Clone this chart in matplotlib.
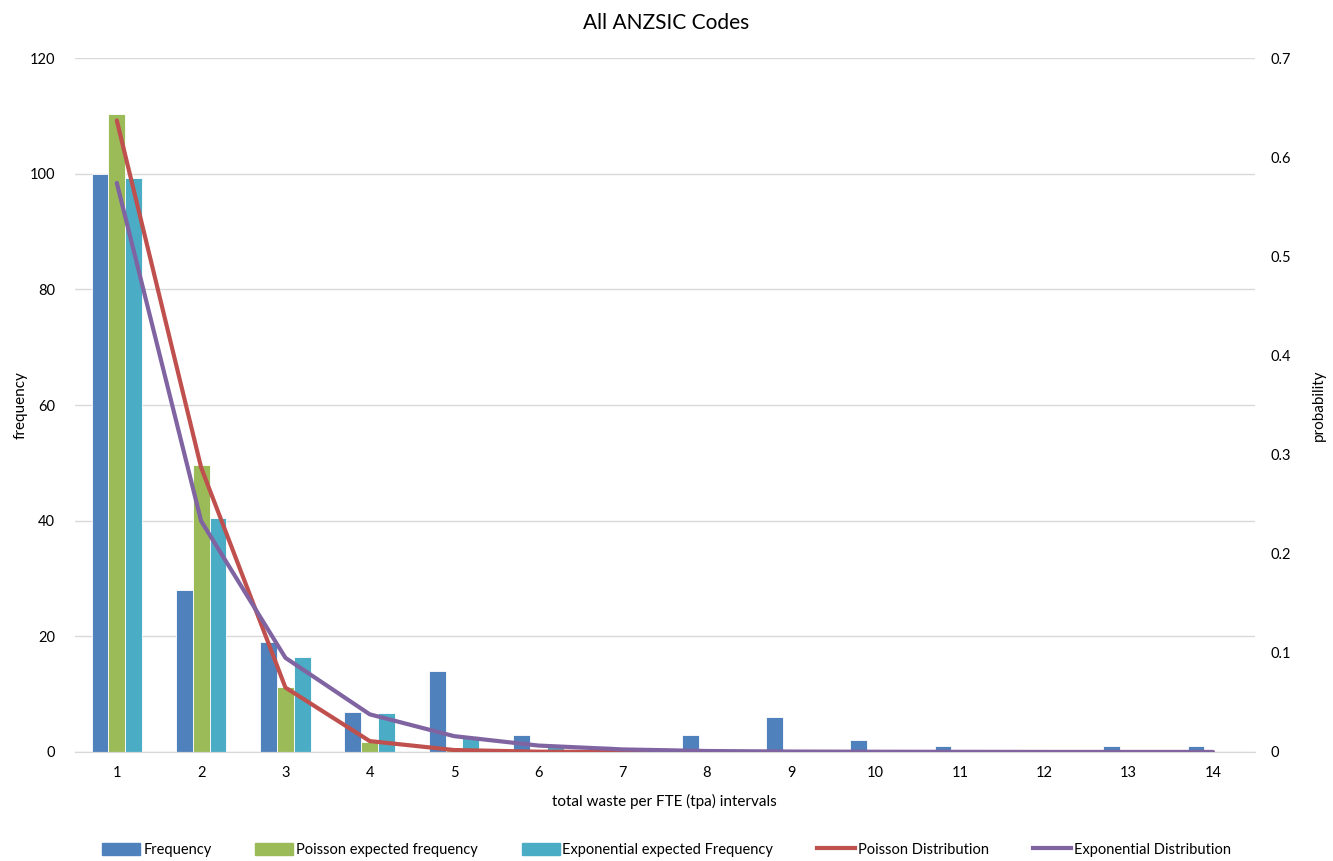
import numpy as np
import matplotlib
matplotlib.use("Agg")
import matplotlib.pyplot as plt
from matplotlib.patches import Patch
from matplotlib.lines import Line2D

plt.rcParams['font.family'] = ['Lato', 'DejaVu Sans']

# data
intervals = [str(i) for i in range(1, 15)]
frequency = [100, 28, 19, 7, 14, 3, 1, 3, 6, 2, 1, 0, 1, 1]
poisson_freq = [110.3, 49.6, 11.2, 1.8, 0.3, 0.05, 0.01, 0, 0, 0, 0, 0, 0, 0]
expon_freq = [99.3, 40.4, 16.4, 6.7, 2.7, 1.1, 0.45, 0.18, 0.07, 0.03, 0.01, 0, 0, 0]
poisson_dist = [0.637, 0.287, 0.065, 0.011, 0.002, 0.0003, 0.0001, 0, 0, 0, 0, 0, 0, 0]
expon_dist = [0.574, 0.233, 0.095, 0.038, 0.016, 0.0065, 0.0026, 0.001, 0.0004, 0.0002, 0.0001, 0, 0, 0]

c_freq = '#4f81bd'
c_pois = '#9bbb59'
c_exp = '#4bacc6'
c_pline = '#c0504d'
c_eline = '#8064a2'

fig = plt.figure(figsize=(13.33, 8.61), dpi=100)
ax = fig.add_axes([0.056, 0.1266, 0.8855, 0.806])
ax2 = ax.twinx()

x = np.arange(len(intervals))
w = 0.2
ax.bar(x - w, frequency, w, color=c_freq, edgecolor='white', linewidth=0.6, zorder=2)
ax.bar(x, poisson_freq, w, color=c_pois, edgecolor='white', linewidth=0.6, zorder=2)
ax.bar(x + w, expon_freq, w, color=c_exp, edgecolor='white', linewidth=0.6, zorder=2)

ax2.plot(x, poisson_dist, color=c_pline, lw=3, solid_capstyle='round', zorder=3)
ax2.plot(x, expon_dist, color=c_eline, lw=3, solid_capstyle='round', zorder=4)

ax.set_xlim(-0.5, len(intervals) - 0.5)
ax.set_ylim(0, 120)
ax.set_yticks(range(0, 121, 20))
ax2.set_ylim(0, 0.7)
ax2.set_yticks(np.arange(0, 0.71, 0.1))
ax2.set_yticklabels(['0'] + ['%.1f' % v for v in np.arange(0.1, 0.71, 0.1)])
ax.set_xticks(x)
ax.set_xticklabels(intervals)

ax.grid(axis='y', color='#d9d9d9', lw=1, zorder=0)
ax.set_axisbelow(True)
for a in (ax, ax2):
    for s in ('top', 'left', 'right'):
        a.spines[s].set_visible(False)
    a.spines['bottom'].set_color('#d9d9d9')
    a.tick_params(length=0, labelsize=10.5, colors='#000000')
ax.tick_params(axis='y', pad=14)
ax.tick_params(axis='x', pad=10)
ax2.tick_params(axis='y', pad=11)

ax.set_xlabel('total waste per FTE (tpa) intervals', fontsize=11, labelpad=10)
ax.set_ylabel('frequency', fontsize=11)
ax.yaxis.set_label_coords(-0.04, 0.5)
ax2.set_ylabel('probability', fontsize=11)
ax2.yaxis.set_label_coords(1.048, 0.5)
fig.suptitle('All ANZSIC Codes', fontsize=15, y=0.985)

handles = [
    Patch(color=c_freq, label='Frequency'),
    Patch(color=c_pois, label='Poisson expected frequency'),
    Patch(color=c_exp, label='Exponential expected Frequency'),
    Line2D([], [], color=c_pline, lw=3, label='Poisson Distribution'),
    Line2D([], [], color=c_eline, lw=3, label='Exponential Distribution'),
]
fig.legend(handles=handles, loc='center', bbox_to_anchor=(0.5, 0.013), ncol=5,
           frameon=False, fontsize=10.5, handlelength=2.6, handleheight=0.9,
           handletextpad=0.2, columnspacing=3.0)

fig.savefig('out.png', dpi=100)
